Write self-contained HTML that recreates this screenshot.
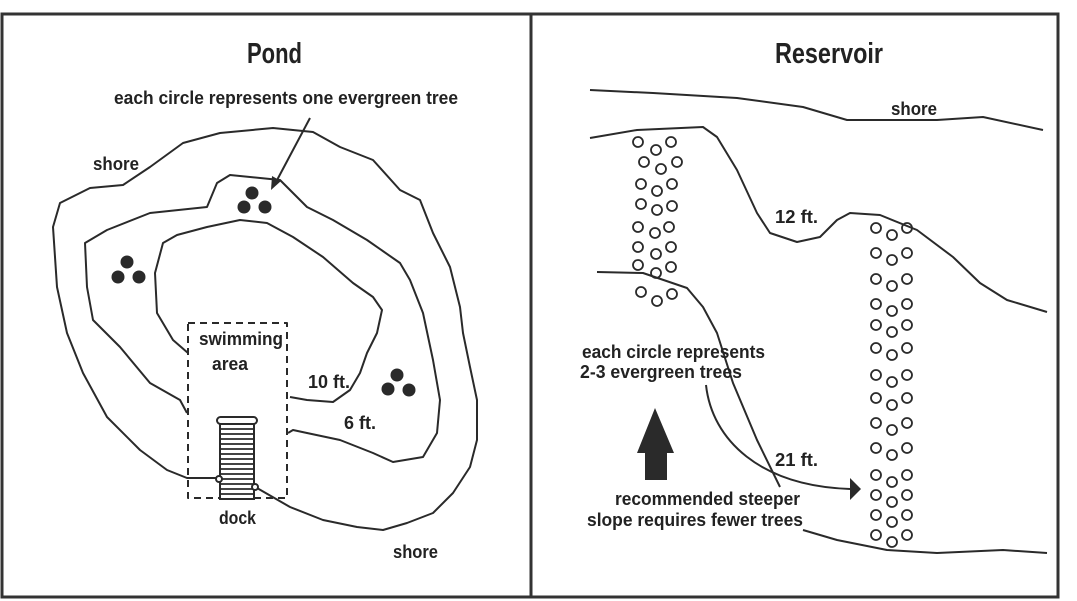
<!DOCTYPE html>
<html><head><meta charset="utf-8"><style>
html,body{margin:0;padding:0;background:#fff;}
svg{display:block;}
text{font-family:"Liberation Sans",sans-serif;font-weight:bold;fill:#222;}
</style></head><body>
<svg width="1077" height="601" viewBox="0 0 1077 601" xmlns="http://www.w3.org/2000/svg">
<g fill="none" stroke="#333" stroke-width="3">
<path d="M2,14 H1058 V597 H2 Z"/>
<line x1="531" y1="14" x2="531" y2="597"/>
</g>
<!-- Pond -->
<g fill="none" stroke="#2a2a2a" stroke-width="2" stroke-linejoin="round">
<path d="M257,488 L290,507 L323,520 L357,527 L383,530 L407,523 L433,513 L453,493 L470,467 L477,440 L477,400 L470,367 L463,333 L460,307 L450,267 L433,233 L420,200 L400,190 L373,160 L340,147 L313,132 L273,128 L220,133 L183,143 L150,167 L123,185 L90,188 L60,203 L53,227 L57,287 L67,333 L83,373 L107,417 L140,450 L167,470 L187,478 L220,478"/>
<path d="M187,413 L180,400 L150,383 L120,347 L93,320 L87,287 L85,243 L107,230 L150,213 L207,207 L217,183 L230,175 L280,180 L293,193 L307,207 L333,220 L367,240 L400,263 L410,280 L423,313 L433,360 L440,400 L437,433 L423,457 L393,462 L373,453 L340,440 L307,433 L293,430 L288,433"/>
<path d="M188,353 L173,340 L157,313 L155,273 L163,243 L177,235 L207,227 L240,220 L267,223 L293,237 L323,257 L353,283 L373,297 L382,310 L377,333 L367,353 L360,373 L350,390 L333,402 L307,400 L290,397"/>
<rect x="188" y="323" width="99" height="175" stroke-dasharray="7,5"/>
<line x1="310" y1="118" x2="276" y2="182"/>
</g>
<polygon points="271,190 272,176 281,181" fill="#2a2a2a"/>
<g fill="#2a2a2a">
<circle cx="252" cy="193" r="6.5"/><circle cx="244" cy="207" r="6.5"/><circle cx="265" cy="207" r="6.5"/>
<circle cx="127" cy="262" r="6.5"/><circle cx="118" cy="277" r="6.5"/><circle cx="139" cy="277" r="6.5"/>
<circle cx="397" cy="375" r="6.5"/><circle cx="388" cy="389" r="6.5"/><circle cx="409" cy="390" r="6.5"/>
</g>
<!-- dock -->
<g stroke="#2a2a2a" fill="#fff" stroke-width="2">
<rect x="220" y="420" width="34" height="79"/>
<rect x="217" y="417" width="40" height="7" rx="3.5"/>
<circle cx="219" cy="479" r="3"/><circle cx="255" cy="487" r="3"/>
</g>
<g stroke="#2a2a2a" stroke-width="1.8">
<line x1="221" y1="429" x2="253" y2="429"/><line x1="221" y1="434" x2="253" y2="434"/><line x1="221" y1="439" x2="253" y2="439"/><line x1="221" y1="444" x2="253" y2="444"/><line x1="221" y1="449" x2="253" y2="449"/><line x1="221" y1="454" x2="253" y2="454"/><line x1="221" y1="459" x2="253" y2="459"/><line x1="221" y1="464" x2="253" y2="464"/><line x1="221" y1="469" x2="253" y2="469"/><line x1="221" y1="474" x2="253" y2="474"/><line x1="221" y1="479" x2="253" y2="479"/><line x1="221" y1="484" x2="253" y2="484"/><line x1="221" y1="489" x2="253" y2="489"/><line x1="221" y1="494" x2="253" y2="494"/>
</g>
<text x="247" y="63" font-size="29" textLength="55" lengthAdjust="spacingAndGlyphs">Pond</text>
<text x="114" y="104" font-size="18" textLength="344" lengthAdjust="spacingAndGlyphs">each circle represents one evergreen tree</text>
<text x="93" y="170" font-size="18" textLength="46" lengthAdjust="spacingAndGlyphs">shore</text>
<text x="199" y="345" font-size="18" textLength="84" lengthAdjust="spacingAndGlyphs">swimming</text>
<text x="212" y="370" font-size="18" textLength="36" lengthAdjust="spacingAndGlyphs">area</text>
<text x="308" y="388" font-size="18" textLength="42" lengthAdjust="spacingAndGlyphs">10 ft.</text>
<text x="344" y="429" font-size="18" textLength="32" lengthAdjust="spacingAndGlyphs">6 ft.</text>
<text x="219" y="524" font-size="18" textLength="37" lengthAdjust="spacingAndGlyphs">dock</text>
<text x="393" y="558" font-size="18" textLength="45" lengthAdjust="spacingAndGlyphs">shore</text>
<!-- Reservoir -->
<g fill="none" stroke="#2a2a2a" stroke-width="2" stroke-linejoin="round">
<path d="M590,90 L653,93 L737,98 L803,107 L847,120 L937,120 L983,117 L1043,130"/>
<path d="M590,138 L637,130 L703,127 L717,137 L737,170 L757,213 L770,233 L797,242 L820,237 L837,220 L850,213 L880,215 L917,230 L953,257 L980,283 L1007,300 L1047,312"/>
<path d="M597,272 L643,273 L687,288 L703,307 L717,333 L733,383 L757,440 L780,487"/>
<path d="M803,530 L837,540 L887,550 L937,553 L1003,550 L1047,553"/>
<path d="M706,385 C712,440 760,486 850,489"/>
</g>
<polygon points="850,478 861,489 850,500" fill="#2a2a2a"/>
<polygon points="655,408 674,453 667,453 667,480 645,480 645,453 637,453" fill="#2a2a2a"/>
<g fill="none" stroke="#2a2a2a" stroke-width="1.8">
<circle cx="638" cy="142" r="5"/><circle cx="656" cy="150" r="5"/><circle cx="671" cy="142" r="5"/>
<circle cx="644" cy="162" r="5"/><circle cx="661" cy="169" r="5"/><circle cx="677" cy="162" r="5"/>
<circle cx="641" cy="184" r="5"/><circle cx="657" cy="191" r="5"/><circle cx="672" cy="184" r="5"/>
<circle cx="641" cy="204" r="5"/><circle cx="657" cy="210" r="5"/><circle cx="672" cy="206" r="5"/>
<circle cx="638" cy="227" r="5"/><circle cx="655" cy="233" r="5"/><circle cx="669" cy="227" r="5"/>
<circle cx="638" cy="247" r="5"/><circle cx="656" cy="254" r="5"/><circle cx="671" cy="247" r="5"/>
<circle cx="638" cy="265" r="5"/><circle cx="656" cy="273" r="5"/><circle cx="671" cy="267" r="5"/>
<circle cx="641" cy="292" r="5"/><circle cx="657" cy="301" r="5"/><circle cx="672" cy="294" r="5"/>
</g>
<g fill="none" stroke="#2a2a2a" stroke-width="1.8">
<circle cx="876" cy="228" r="5"/><circle cx="892" cy="235" r="5"/><circle cx="907" cy="228" r="5"/>
<circle cx="876" cy="253" r="5"/><circle cx="892" cy="260" r="5"/><circle cx="907" cy="253" r="5"/>
<circle cx="876" cy="279" r="5"/><circle cx="892" cy="286" r="5"/><circle cx="907" cy="279" r="5"/>
<circle cx="876" cy="304" r="5"/><circle cx="892" cy="311" r="5"/><circle cx="907" cy="304" r="5"/>
<circle cx="876" cy="325" r="5"/><circle cx="892" cy="332" r="5"/><circle cx="907" cy="325" r="5"/>
<circle cx="876" cy="348" r="5"/><circle cx="892" cy="355" r="5"/><circle cx="907" cy="348" r="5"/>
<circle cx="876" cy="375" r="5"/><circle cx="892" cy="382" r="5"/><circle cx="907" cy="375" r="5"/>
<circle cx="876" cy="398" r="5"/><circle cx="892" cy="405" r="5"/><circle cx="907" cy="398" r="5"/>
<circle cx="876" cy="423" r="5"/><circle cx="892" cy="430" r="5"/><circle cx="907" cy="423" r="5"/>
<circle cx="876" cy="448" r="5"/><circle cx="892" cy="455" r="5"/><circle cx="907" cy="448" r="5"/>
<circle cx="876" cy="475" r="5"/><circle cx="892" cy="482" r="5"/><circle cx="907" cy="475" r="5"/>
<circle cx="876" cy="495" r="5"/><circle cx="892" cy="502" r="5"/><circle cx="907" cy="495" r="5"/>
<circle cx="876" cy="515" r="5"/><circle cx="892" cy="522" r="5"/><circle cx="907" cy="515" r="5"/>
<circle cx="876" cy="535" r="5"/><circle cx="892" cy="542" r="5"/><circle cx="907" cy="535" r="5"/>
</g>
<text x="775" y="63" font-size="29" textLength="108" lengthAdjust="spacingAndGlyphs">Reservoir</text>
<text x="891" y="115" font-size="18" textLength="46" lengthAdjust="spacingAndGlyphs">shore</text>
<text x="775" y="223" font-size="18" textLength="43" lengthAdjust="spacingAndGlyphs">12 ft.</text>
<text x="582" y="358" font-size="18" textLength="183" lengthAdjust="spacingAndGlyphs">each circle represents</text>
<text x="580" y="378" font-size="18" textLength="162" lengthAdjust="spacingAndGlyphs">2-3 evergreen trees</text>
<text x="775" y="466" font-size="18" textLength="43" lengthAdjust="spacingAndGlyphs">21 ft.</text>
<text x="615" y="505" font-size="18" textLength="185" lengthAdjust="spacingAndGlyphs">recommended steeper</text>
<text x="587" y="526" font-size="18" textLength="216" lengthAdjust="spacingAndGlyphs">slope requires fewer trees</text>
</svg>
</body></html>
